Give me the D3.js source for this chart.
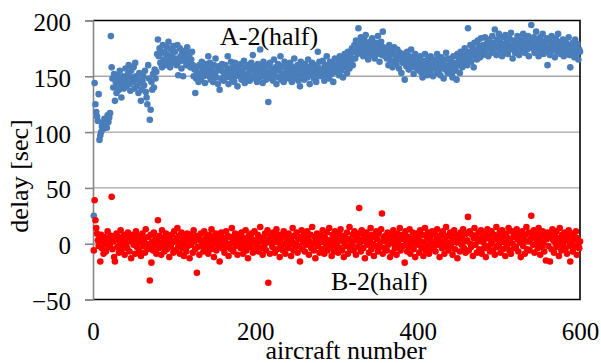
<!DOCTYPE html>
<html>
<head>
<meta charset="utf-8">
<script src="https://cdn.jsdelivr.net/npm/d3@7"></script>
<style>
  html, body { margin: 0; padding: 0; background: #fff; }
  svg { display: block; }
  text { font-family: "Liberation Serif", "Times New Roman", serif; fill: #000; }
</style>
</head>
<body>
<svg id="chart" width="601" height="363"></svg>
<script>
// ---- data (aircraft number = index + 1) ----
const xTicks = [0, 200, 400, 600];
const yTicks = [-50, 0, 50, 100, 150, 200];
const seriesNames = ["A-2(half)", "B-2(half)"];
const xTitle = "aircraft number";
const yTitle = "delay [sec]";

const delayA = [
  25,144,125,118,114,110,134,93,97,100,105,108,103,112,107,110,104,115,109,113,
  117,186,158,148,140,152,128,145,135,150,142,138,155,147,131,144,150,139,146,157,
  141,148,152,160,143,137,155,149,145,158,139,162,150,141,147,135,153,144,128,138,
  146,150,142,155,136,131,125,160,148,111,120,145,138,152,140,156,148,154,170,183,
  168,175,162,171,158,178,165,172,160,170,176,163,181,167,158,174,169,162,177,165,
  172,166,160,178,151,163,175,168,157,171,150,164,169,173,160,176,167,162,170,158,
  165,172,160,150,156,135,148,158,153,145,160,152,147,163,155,150,158,144,161,153,
  156,168,150,162,147,158,153,145,160,151,166,149,155,143,159,138,157,148,161,154,
  146,152,160,149,155,168,143,157,151,163,148,154,159,145,162,150,156,141,153,158,
  150,161,147,155,152,164,144,158,151,149,160,153,146,157,162,148,169,155,150,159,
  152,145,161,156,149,174,153,158,144,163,150,155,147,160,154,127,151,162,148,157,
  153,146,165,151,158,143,156,161,149,155,168,147,159,152,145,163,150,157,154,160,
  148,156,162,151,145,158,153,166,149,157,152,160,146,155,141,163,150,158,154,147,
  161,152,157,149,165,155,143,159,151,162,156,148,160,153,145,158,172,150,163,155,
  157,150,164,153,146,160,155,168,151,158,148,163,156,152,161,145,159,166,154,160,
  157,163,151,168,159,155,165,149,162,170,158,166,153,172,161,157,169,164,175,160,
  172,178,166,182,175,170,193,180,176,185,171,178,168,183,174,187,170,179,165,176,
  181,173,169,184,177,172,166,180,175,170,186,178,163,174,181,169,190,176,171,168,
  175,166,172,160,178,169,164,173,158,170,176,163,168,161,174,166,157,171,165,153,
  168,162,170,147,165,159,172,163,156,168,161,174,158,166,152,164,170,160,157,167,
  162,155,168,160,153,149,164,158,170,156,162,151,166,159,154,168,157,163,150,161,
  158,165,153,170,160,155,163,151,167,158,162,148,165,156,171,159,153,166,161,157,
  164,152,149,168,158,162,155,147,170,160,166,153,172,163,158,168,161,175,165,170,
  160,193,172,166,178,163,170,175,158,180,168,173,165,182,171,177,167,184,174,169,
  178,172,185,170,176,181,168,183,175,179,171,186,174,180,192,177,169,183,175,188,
  173,180,176,168,185,179,172,187,175,181,170,178,184,174,189,177,166,182,176,171,
  180,174,186,178,169,183,175,181,172,188,177,171,184,179,174,186,168,182,177,196,
  180,175,185,171,178,190,174,182,168,179,185,173,176,188,170,181,177,172,184,160,
  175,182,169,178,186,173,180,176,167,184,178,172,188,175,181,170,179,174,183,168,
  177,182,171,179,174,185,169,158,178,172,180,176,167,183,175,170,179,165,174,172
];

const delayB = [
  -6,39,21,14,9,3,-2,5,-16,8,-4,2,-9,6,0,-7,3,11,-3,5,
  -1,7,42,-5,2,-12,-16,4,9,-3,6,-8,1,12,-6,3,-2,8,-10,5,
  0,-4,10,3,-7,6,-13,2,8,-1,4,-9,11,-3,1,7,-6,5,-11,2,
  9,-2,4,-8,13,0,-5,6,-3,-33,8,-17,2,-6,10,-1,5,-9,3,21,
  -4,7,1,-10,12,-2,5,-7,3,9,-5,0,6,-12,4,-3,8,1,-8,11,
  2,-6,5,14,-3,7,-9,1,10,-4,3,-11,6,0,-7,9,-2,4,-13,8,
  -1,5,-8,12,2,-5,7,-26,-3,6,-10,3,9,-2,1,-7,11,4,-4,6,
  0,-9,8,3,-5,13,-2,6,-12,2,9,-6,4,-1,7,-16,3,10,-4,1,
  5,-8,2,11,-3,7,-11,0,6,-5,14,1,-7,4,9,-2,3,-10,8,-1,
  6,-4,10,2,-9,5,-2,12,-6,3,-13,7,0,-3,9,4,-8,1,11,-5,
  3,-1,8,-7,5,15,-4,2,-10,6,-2,9,-6,1,12,-35,4,-9,7,0,
  -3,10,2,-8,5,13,-5,1,8,-12,4,-2,7,-6,11,0,-9,6,3,-4,
  9,-1,5,-11,2,14,-6,7,-3,0,10,-8,4,-2,-16,6,12,-5,1,8,
  -7,3,-1,11,5,-10,2,8,-4,15,0,-6,6,-13,3,9,-2,4,-8,1,
  7,-5,12,2,-9,5,-1,10,-6,3,14,-3,0,-11,8,4,-7,11,-2,6,
  1,-8,9,-4,13,3,-6,7,-12,0,5,-2,10,-9,4,15,-5,2,-1,8,
  -6,11,3,-10,5,-3,9,32,1,-7,12,4,-4,7,-13,2,10,-1,6,-8,
  3,14,-5,8,0,-11,6,-2,11,4,-7,9,-3,1,13,27,-9,5,-4,7,
  2,-6,10,-1,5,-12,8,3,-8,12,0,-4,6,-10,9,2,-3,14,-6,4,
  8,-2,5,-17,11,1,-7,6,-3,13,-9,4,0,10,-5,7,-12,3,9,-1,
  5,-8,12,2,-4,8,-11,1,14,-6,6,-2,10,-9,3,7,-5,11,0,-3,
  9,-7,4,13,-1,6,-12,2,8,-4,11,0,-9,5,15,-3,7,-6,1,10,
  -2,6,-10,3,12,-5,8,1,-13,7,4,-7,10,-1,5,13,-4,2,-8,9,
  3,24,-6,11,0,-3,8,-11,5,14,-1,7,-8,2,10,-5,4,12,-9,6,
  1,-4,9,-12,5,13,-2,7,-7,3,11,0,-6,8,-10,4,15,-3,6,-1,
  10,-8,3,12,-5,7,1,-11,9,-2,5,14,-6,2,-9,11,0,6,-4,8,
  -3,13,4,-7,9,1,-12,6,11,-2,3,-9,8,15,-5,2,10,-6,4,25,
  7,-1,12,-8,5,0,9,-4,14,2,-10,6,-3,11,1,-7,8,-15,4,10,
  -2,6,-16,9,-5,13,3,-8,7,0,11,-3,5,-11,14,2,-6,8,-1,4,
  10,-5,3,-9,7,12,-2,-16,6,1,-7,9,4,-3,11,-10,5,0,-4,2
];

// ---- layout ----
const svg = d3.select("#chart");
const L = 93, R = 580, T = 20.5, B = 299.5;
const x = d3.scaleLinear().domain([0, 600]).range([L, R]);
const y = d3.scaleLinear().domain([-50, 200]).range([B, T]);
const colA = "#4a7ebb", colB = "#ff0000";
const grid = "#a6a6a6", axisGray = "#868686";

// gridlines
svg.append("g").selectAll("line")
  .data(yTicks.filter(v => v > -50 && v < 200))
  .join("line")
  .attr("x1", L).attr("x2", R)
  .attr("y1", d => y(d)).attr("y2", d => y(d))
  .attr("stroke", grid).attr("stroke-width", 1.4);

// plot border (top, right, bottom)
svg.append("path")
  .attr("d", `M${L},${T}H${R}V${B}H${L}`)
  .attr("fill", "none").attr("stroke", "#000").attr("stroke-width", 1.6);

// y axis
const yAxis = svg.append("g")
  .attr("transform", `translate(${L},0)`)
  .call(d3.axisLeft(y).tickValues(yTicks).tickSize(8).tickPadding(14).tickFormat(d3.format("d")));
yAxis.select(".domain").attr("stroke", axisGray).attr("stroke-width", 1.6);
yAxis.selectAll(".tick line").attr("stroke", axisGray).attr("stroke-width", 1.6);
yAxis.selectAll("text").attr("font-size", 25).attr("dy", "0.4em")
  .style("font-family", "'Liberation Serif', 'Times New Roman', serif").attr("fill", "#000");

// x axis (labels only)
const xAxis = svg.append("g")
  .attr("transform", `translate(0,${B})`)
  .call(d3.axisBottom(x).tickValues(xTicks).tickSize(0).tickFormat(d3.format("d")));
xAxis.select(".domain").remove();
xAxis.selectAll("text").attr("font-size", 25).attr("y", 40.5).attr("dy", 0)
  .style("font-family", "'Liberation Serif', 'Times New Roman', serif").attr("fill", "#000");

// series A
svg.append("g").selectAll("circle")
  .data(delayA)
  .join("circle")
  .attr("cx", (d, i) => x(i + 1))
  .attr("cy", d => y(d))
  .attr("r", 3.3)
  .attr("fill", colA);

// series B
svg.append("g").selectAll("circle")
  .data(delayB)
  .join("circle")
  .attr("cx", (d, i) => x(i + 1))
  .attr("cy", d => y(d))
  .attr("r", 3.3)
  .attr("fill", colB);

// labels
svg.append("text").attr("x", 220).attr("y", 45).attr("font-size", 26).text(seriesNames[0]);
svg.append("text").attr("x", 331).attr("y", 290).attr("font-size", 26).text(seriesNames[1]);

svg.append("text").attr("x", 346).attr("y", 359).attr("font-size", 26)
  .attr("text-anchor", "middle").text(xTitle);
svg.append("text")
  .attr("transform", "translate(28,176) rotate(-90)")
  .attr("font-size", 26).attr("text-anchor", "middle").text(yTitle);
</script>
</body>
</html>
